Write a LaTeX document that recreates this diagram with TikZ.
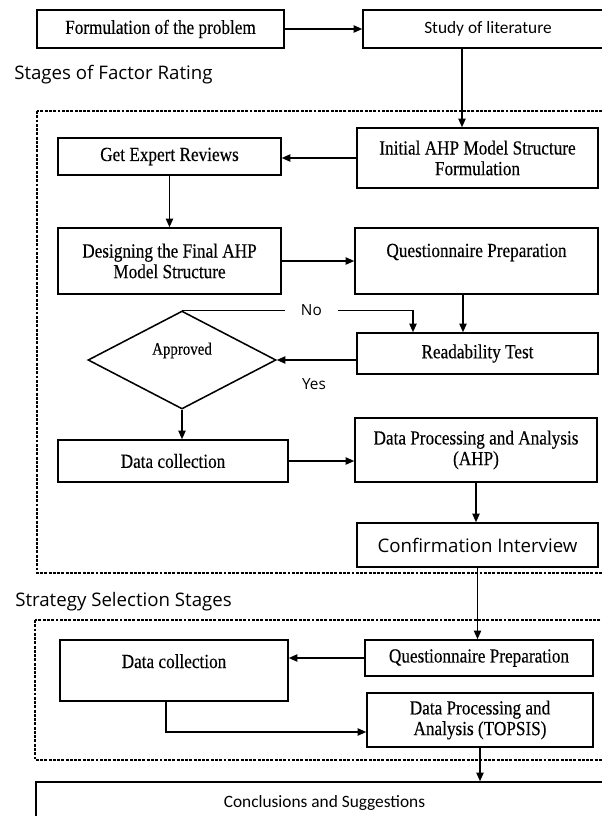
\documentclass[tikz,border=0pt]{standalone}
\usepackage{fontspec}
\setmainfont{Liberation Serif}[FakeStretch=0.86,FakeBold=0.3]
\newfontfamily\osans{Open Sans}
\newfontfamily\csans{Carlito}
\usetikzlibrary{arrows.meta,shapes.geometric,calc}
\tikzset{
  bx/.style 2 args={draw, line width=1.15pt, minimum width=#1*0.75pt, minimum height=#2*0.75pt,
    inner sep=0pt, align=center, font=\fontsize{15}{15.5}\selectfont},
  arr/.style={line width=1.1pt, -{Triangle[length=6.5pt,width=5.5pt]}},
  dsh/.style={line width=0.9pt, dash pattern=on 2.2pt off 1pt},
  sanslbl/.style={font=\osans\fontsize{14}{16}\selectfont, inner sep=0pt},
  small/.style={font=\osans\fontsize{11.5}{12}\selectfont}
}
\begin{document}
\begin{tikzpicture}[x=0.75pt,y=-0.75pt]
\useasboundingbox (0,0) rectangle (602,816);
\clip (0,0) rectangle (602,816);

% top row
\node[bx={247}{38}] (form) at (160.5,29) {Formulation of the problem};
\node[bx={250}{38}, font=\csans\fontsize{13}{14}\selectfont] (study) at (488,29) {Study of literature};
\draw[arr] (form) -- (study);

% stage 1
\node[sanslbl, anchor=west] (st1) at (14,75) {Stages of Factor Rating};
\draw[dsh] (37,111) rectangle (615,573);

\node[bx={241}{60}] (ini) at (477.5,158) {Initial AHP Model Structure\\Formulation};
\draw[arr] (study.south -| 462,0) -- (ini.north -| 462,0);

\node[bx={223}{37}] (get) at (169.5,156.5) {Get Expert Reviews};
\draw[arr] (ini.west) -- (ini.west -| get.east);

\node[bx={223}{66}] (des) at (169.5,261) {Designing the Final AHP\\Model Structure};
\draw[arr] (get) -- (des);

\node[bx={243}{66}, text height=21.75pt, text depth=27.75pt] (q1) at (476.5,261) {Questionnaire Preparation};
\draw[arr] (des) -- (q1);

\node[bx={241}{41}] (read) at (477.5,353.5) {Readability Test};
\draw[arr] (q1.south -| 463,0) -- (read.north -| 463,0);

\node[diamond, draw, line width=1.15pt, aspect=2, minimum width=141pt, minimum height=73.5pt,
  inner sep=0pt, font=\fontsize{13}{13}\selectfont, text height=7pt, text depth=15pt] (dia) at (182,360) {Approved};
\draw[arr] (dia.north) -| node[pos=0.28, fill=white, inner xsep=12pt, inner ysep=1pt, small] (no) {No} (read.north -| 413,0);
\draw[arr] (read.west |- dia.east) -- (dia.east);
\node[small, inner sep=0pt] (yes) at (314,384) {Yes};

\node[bx={230}{42}] (dc1) at (173,461) {Data collection};
\draw[arr] (dia.south) -- (dia.south |- dc1.north);

\node[bx={242}{64}] (dpa) at (476,450) {Data Processing and Analysis\\(AHP)};
\draw[arr] (dc1.east) -- (dc1.east -| dpa.west);

\node[bx={241}{44}, font=\osans\fontsize{14}{16}\selectfont] (conf) at (477.5,545) {Confirmation Interview};
\draw[arr] (dpa.south) -- (dpa.south |- conf.north);

% stage 2
\node[sanslbl, anchor=west] (st2) at (15,602) {Strategy Selection Stages};
\draw[dsh] (35,620) rectangle (615,760);

\node[bx={228}{36}] (q2) at (479,658) {Questionnaire Preparation};
\draw[arr] (conf.south) -- (conf.south |- q2.north);

\node[bx={228}{61}, text height=21pt, text depth=24.75pt] (dc2) at (174,670.5) {Data collection};
\draw[arr] (q2.west) -- (q2.west -| dc2.east);

\node[bx={226}{54}] (tops) at (480,720) {Data Processing and\\Analysis (TOPSIS)};
\draw[arr] ([xshift=-6pt]dc2.south) |- ([yshift=-9pt]tops.west);

\node[bx={577}{42}, font=\csans\fontsize{13}{14}\selectfont] (conc) at (324.5,803) {Conclusions and Suggestions};
\draw[arr] (tops.south) -- (tops.south |- conc.north);
\end{tikzpicture}
\end{document}
